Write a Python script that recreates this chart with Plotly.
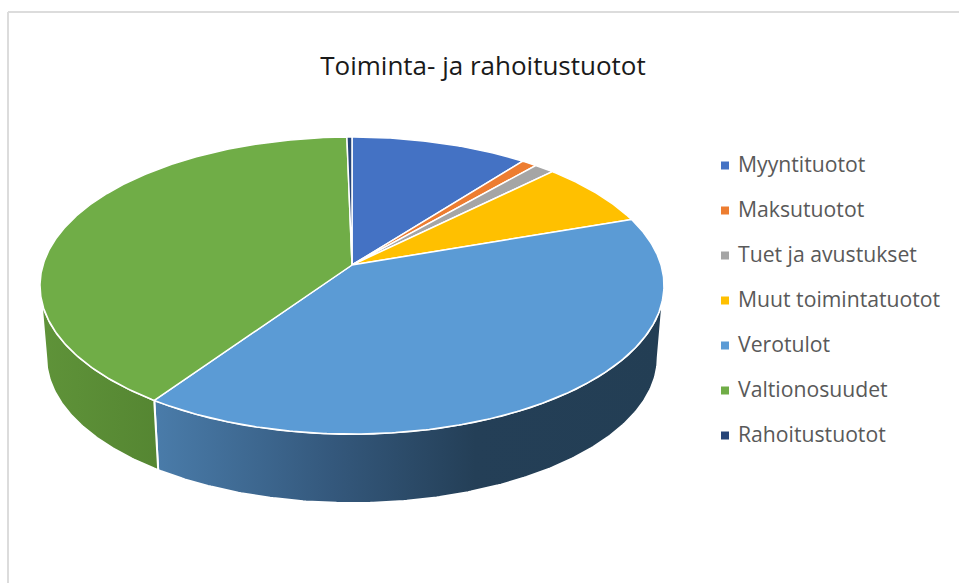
import math
import plotly.graph_objects as go

# Data (per cent of total, clockwise from 12 o'clock)
categories = ["Myyntituotot", "Maksutuotot", "Tuet ja avustukset", "Muut toimintatuotot",
              "Verotulot", "Valtionosuudet", "Rahoitustuotot"]
values = [10.5, 0.9, 1.2, 7.1, 39.9, 40.1, 0.3]
colors = ["#4472C4", "#ED7D31", "#A5A5A5", "#FFC000", "#5B9BD5", "#70AD47", "#264478"]
title_text = "Toiminta- ja rahoitustuotot"

# Side-wall shading per category (left to right as fractions of the wall's x extent)
wall_shades = {
    "Verotulot": [[0, "#4A7CAA"], [0.35, "#34587C"], [0.63, "#243F57"], [1, "#233E54"]],
    "Valtionosuudet": [[0, "#5F9339"], [1, "#558632"]],
}

# Pie projection (perspective view of a flat disc, in pixel-sized axis units)
CX, APEX_Y, K, A, B = 352.0, 265.0, 0.138, 145.7, 309.0
BASE_SCALE, BASE_DROP = 0.98, 72.4
FRONT_L = math.degrees(math.acos(-K))       # right silhouette angle
FRONT_R = 360 - FRONT_L                     # left silhouette angle

# Legend layout
LEG_MARK_X, LEG_TEXT_X, LEG_TOP, LEG_STEP, LEG_TEXT_DY = 725, 738, 165.5, 45, 1


def project(deg, scale=1.0, drop=0.0):
    t = math.radians(deg)
    X, Y = math.sin(t), math.cos(t)
    d = 1 + K * Y
    return CX + scale * B * X / d, APEX_Y + drop - scale * A * Y / d


def arc(a0, a1, **kw):
    n = max(2, int(abs(a1 - a0) * 2) + 1)
    return [project(a0 + (a1 - a0) * i / (n - 1), **kw) for i in range(n)]


fig = go.Figure()
total = sum(values)
edges = [0.0]
for v in values:
    edges.append(edges[-1] + v / total * 360)

# Side walls
for name, col, a0, a1 in zip(categories, colors, edges[:-1], edges[1:]):
    lo, hi = max(a0, FRONT_L), min(a1, FRONT_R)
    if hi <= lo:
        continue
    top = arc(lo, hi)
    base = arc(hi, lo, scale=BASE_SCALE, drop=BASE_DROP)
    pts = top + base + top[:1]
    xs = [p[0] for p in pts]
    ys = [p[1] for p in pts]
    fig.add_trace(go.Scatter(
        x=xs, y=ys, mode="lines", fill="toself", showlegend=False, hoverinfo="skip",
        line=dict(color="white", width=2),
        fillgradient=dict(type="horizontal", colorscale=wall_shades[name],
                          start=min(xs), stop=max(xs)),
    ))

# Top surface
for name, col, a0, a1 in zip(categories, colors, edges[:-1], edges[1:]):
    pts = [(CX, APEX_Y)] + arc(a0, a1) + [(CX, APEX_Y)]
    fig.add_trace(go.Scatter(
        x=[p[0] for p in pts], y=[p[1] for p in pts], mode="lines", fill="toself",
        fillcolor=col, line=dict(color="white", width=1.5), showlegend=False,
        name=name, hoverinfo="name",
    ))

# Legend rows
row_y = [LEG_TOP + i * LEG_STEP for i in range(len(categories))]
fig.add_trace(go.Scatter(
    x=[LEG_MARK_X] * len(categories), y=row_y, mode="markers", showlegend=False, hoverinfo="skip",
    marker=dict(symbol="square", size=8, color=colors),
))
fig.add_trace(go.Scatter(
    x=[LEG_TEXT_X] * len(categories), y=[y + LEG_TEXT_DY for y in row_y], mode="text",
    showlegend=False, hoverinfo="skip",
    text=categories, textposition="middle right",
    textfont=dict(family="Open Sans", size=21.2, color="#595959"),
))

fig.update_layout(
    width=959, height=583, autosize=False,
    margin=dict(l=0, r=0, t=0, b=0),
    paper_bgcolor="white", plot_bgcolor="white",
    title=dict(text=title_text, x=483 / 959, y=1 - 66 / 583, xanchor="center", yanchor="middle",
               font=dict(family="Open Sans", size=26, color="#1a1a1a")),
    xaxis=dict(range=[0, 959], visible=False, fixedrange=True),
    yaxis=dict(range=[583, 0], visible=False, fixedrange=True),
    shapes=[
        dict(type="line", xref="paper", yref="paper", x0=8 / 959, x1=1, y0=1 - 12 / 583, y1=1 - 12 / 583,
             line=dict(color="#DCDCDC", width=2)),
        dict(type="line", xref="paper", yref="paper", x0=8 / 959, x1=8 / 959, y0=0, y1=1 - 12 / 583,
             line=dict(color="#DCDCDC", width=2)),
    ],
)
fig.write_html("out.html", config={"displayModeBar": False},
               post_script="document.body.style.margin='0';")
